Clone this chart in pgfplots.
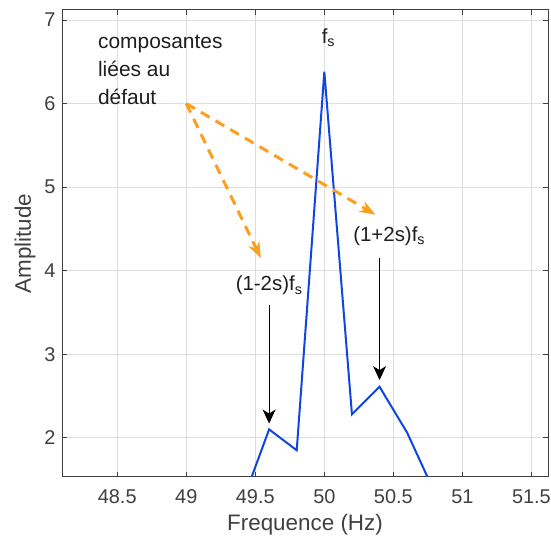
\documentclass[border=0pt]{standalone}
\usepackage{fontspec}
\setmainfont{Liberation Sans}
\usepackage{pgfplots}
\pgfplotsset{compat=1.18}
\usetikzlibrary{arrows.meta}
\definecolor{axgray}{RGB}{64,64,64}
\definecolor{gridgray}{RGB}{222,222,222}
\definecolor{mblue}{RGB}{15,70,225}
\definecolor{morange}{RGB}{250,160,30}
\definecolor{txt}{RGB}{30,30,30}
\begin{document}
\begin{tikzpicture}
\path[use as bounding box] (-62bp,-67bp) rectangle (489bp,477bp);
\begin{axis}[
  at={(0,0)}, anchor=south west,
  scale only axis, width=486bp, height=467bp,
  xmin=48.1, xmax=51.62, ymin=1.53, ymax=7.12,
  xtick={48.5,49,49.5,50,50.5,51,51.5},
  ytick={2,3,4,5,6,7},
  grid=major,
  major grid style={gridgray, line width=0.8bp},
  axis line style={axgray, line width=1bp},
  tick style={axgray, line width=0.8bp},
  tick align=inside,
  major tick length=5bp,
  /pgf/number format/assume math mode=true,
  ticklabel style={font=\fontsize{20}{22}\selectfont, text=axgray},
  xticklabel style={yshift=-9bp},
  yticklabel style={xshift=-3bp},
  xlabel={Frequence (Hz)},
  ylabel={Amplitude},
  label style={font=\fontsize{22.5}{24}\selectfont, text=axgray},
  xlabel style={yshift=-4bp},
  ylabel style={yshift=2bp},
]
\addplot[mblue, line width=2bp] coordinates {
(49.4,1.2) (49.6,2.10) (49.8,1.85) (50.0,6.38) (50.2,2.28) (50.4,2.61) (50.6,2.06) (50.8,1.34)
};
\node[anchor=north west, align=left, text=txt, font=\fontsize{21}{28}\selectfont, inner sep=0pt] at (axis cs:48.36,6.82) {composantes\\liées au\\défaut};
\node[text=txt, font=\fontsize{20.5}{22}\selectfont] at (axis cs:50.03,6.79) {f\textsubscript{s}};
\node[text=txt, font=\fontsize{20.5}{22}\selectfont] at (axis cs:49.6,3.82) {(1-2s)f\textsubscript{s}};
\node[text=txt, font=\fontsize{20.5}{22}\selectfont] at (axis cs:50.47,4.41) {(1+2s)f\textsubscript{s}};
\draw[morange, line width=3bp, dash pattern=on 10bp off 7bp, -{Stealth[length=16bp,width=12bp]}] (axis cs:49,6.0) -- (axis cs:49.54,4.15);
\draw[morange, line width=3bp, dash pattern=on 10bp off 7bp, -{Stealth[length=16bp,width=12bp]}] (axis cs:49,6.0) -- (axis cs:50.37,4.67);
\draw[black, line width=1bp, -{Stealth[length=14bp,width=13bp,inset=4bp]}] (axis cs:49.6,3.59) -- (axis cs:49.6,2.17);
\draw[black, line width=1bp, -{Stealth[length=14bp,width=13bp,inset=4bp]}] (axis cs:50.4,4.15) -- (axis cs:50.4,2.69);
\end{axis}
\end{tikzpicture}
\end{document}
